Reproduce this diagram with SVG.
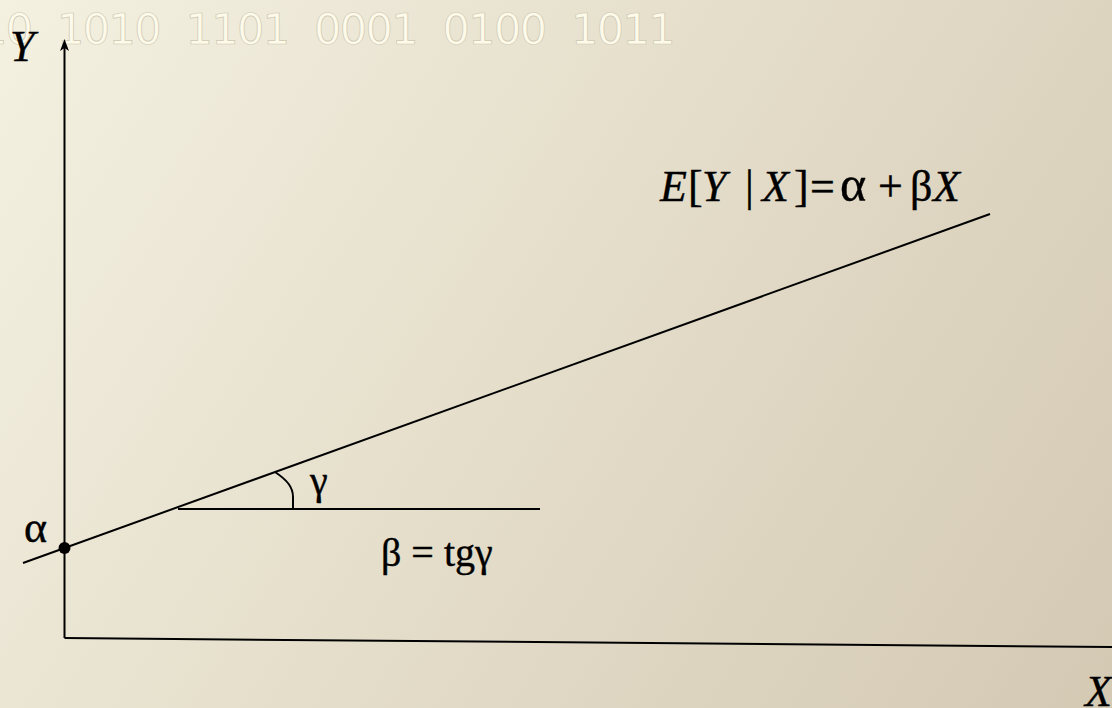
<svg xmlns="http://www.w3.org/2000/svg" width="1112" height="708" viewBox="0 0 1112 708">
<defs>
<linearGradient id="bg" x1="0" y1="0" x2="1112" y2="708" gradientUnits="userSpaceOnUse">
<stop offset="0" stop-color="#f4f1e1"/>
<stop offset="1" stop-color="#d4c9b3"/>
</linearGradient>
<style>
.ln{stroke:#000;stroke-width:2;fill:none}
.bin{font-family:'DejaVu Sans',sans-serif;font-size:43px;fill:#fdfaea;stroke:#cdc7b1;stroke-width:0.7}
.t{font-family:'Liberation Serif','Times New Roman',serif;font-size:44px;fill:#000;stroke:#000;stroke-width:0.4}
.i{font-style:italic}
.s40{font-size:40px}
</style>
</defs>
<rect x="0" y="0" width="1112" height="708" fill="url(#bg)"/>
<text class="bin" y="44" x="-20 5.7 31.4 57.1 82.8 108.5 134.2 159.9 185.6 211.3 237 262.7 288.4 314.1 339.8 365.5 391.2 416.9 442.6 468.3 494 519.7 545.4 571.1 596.8 622.5 648.2">10 1010 1101 0001 0100 1011</text>
<g id="connectors">
<line class="ln" x1="64.5" y1="638" x2="64.5" y2="46"/>
<path d="M64.5,39 L69,51 L64.5,48 L60,51 Z" fill="#000"/>
<line class="ln" x1="64.5" y1="638" x2="1112" y2="647"/>
<line class="ln" x1="23" y1="563" x2="990" y2="214"/>
<line class="ln" x1="178" y1="509" x2="540" y2="509"/>
<path class="ln" d="M275,472 C287,480 293,487 293,497 L293,509"/>
</g>
<g id="alpha-point"><circle cx="64.5" cy="548" r="6" fill="#000"/></g>
<g id="label-Y"><text class="t i" x="10" y="61">Y</text></g>
<g id="label-X"><text class="t i" x="1085" y="706">X</text></g>
<g id="label-alpha"><text class="t" x="24" y="542">α</text></g>
<g id="label-gamma"><text class="t s40" x="310" y="494">γ</text></g>
<g id="label-beta"><text class="t s40" x="381" y="566">β = tgγ</text></g>
<g id="label-equation"><text class="t" y="201"><tspan class="i" x="660">E</tspan><tspan x="688">[</tspan><tspan class="i" x="702">Y</tspan><tspan x="745">|</tspan><tspan class="i" x="762">X</tspan><tspan x="794">]</tspan><tspan x="810">=</tspan><tspan x="840" style="font-size:50px">α</tspan><tspan x="878">+</tspan><tspan x="910">β</tspan><tspan class="i" x="933">X</tspan></text></g>
</svg>
